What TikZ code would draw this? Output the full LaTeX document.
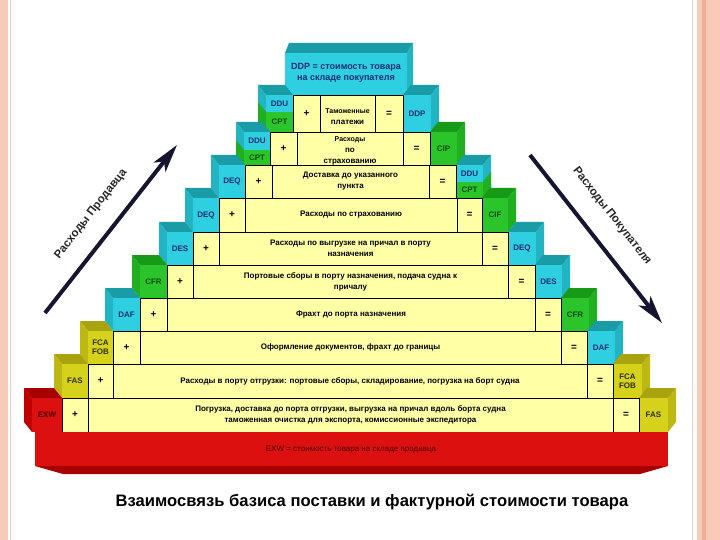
\documentclass[tikz,border=0pt]{standalone}
\usepackage{fontspec}
\setmainfont{Liberation Sans}
\usetikzlibrary{arrows.meta}
\definecolor{cellY}{HTML}{FFFFA6}
\definecolor{cyanF}{HTML}{2ECFE0}
\definecolor{cyanT}{HTML}{1A9CA6}
\definecolor{cyanS}{HTML}{22B4C2}
\definecolor{greenF}{HTML}{2BC42B}
\definecolor{greenT}{HTML}{179A17}
\definecolor{greenS}{HTML}{1FAF1F}
\definecolor{oliveF}{HTML}{D6D21C}
\definecolor{oliveT}{HTML}{A8A30E}
\definecolor{oliveS}{HTML}{BDB814}
\definecolor{redF}{HTML}{DD1010}
\definecolor{redT}{HTML}{A80000}
\definecolor{redS}{HTML}{C00000}
\definecolor{navyT}{HTML}{1C2E6E}
\definecolor{dgreenT}{HTML}{0B4F0B}
\definecolor{oliveTxt}{HTML}{2E2E00}
\definecolor{redTxt}{HTML}{4A0000}
\definecolor{arrowC}{HTML}{151530}
\definecolor{pinkA}{HTML}{F8CBB8}
\definecolor{pinkB}{HTML}{F0AE98}

% left box: x1, ytop, x2, ybot, colour prefix
\newcommand{\LBox}[5]{%
  \fill[#5T] (#1,#2) -- (#3,#2) -- (#3-8,#2-10) -- (#1-8,#2-10) -- cycle;
  \fill[#5S] (#1,#2) -- (#1-8,#2-10) -- (#1-8,#4-10) -- (#1,#4) -- cycle;
  \fill[#5F] (#1,#2) rectangle (#3,#4);}
% right box
\newcommand{\RBox}[5]{%
  \fill[#5T] (#1,#2) -- (#3,#2) -- (#3+8,#2-10) -- (#1+8,#2-10) -- cycle;
  \fill[#5S] (#3,#2) -- (#3+8,#2-10) -- (#3+8,#4-10) -- (#3,#4) -- cycle;
  \fill[#5F] (#1,#2) rectangle (#3,#4);}
% labelled boxes: name, x1, ytop, x2, ybot, prefix, text colour, label
\newcommand{\LB}[8]{\LBox{#2}{#3}{#4}{#5}{#6}%
  \node[lab, text=#7] (#1) at ({(#2+#4)/2},{(#3+#5)/2}) {#8};}
\newcommand{\RB}[8]{\RBox{#2}{#3}{#4}{#5}{#6}%
  \node[lab, text=#7] (#1) at ({(#2+#4)/2},{(#3+#5)/2}) {#8};}
% split DDU/CPT boxes: name, x1, ytop, x2, ybot, ymid
\newcommand{\LS}[6]{\LBox{#2}{#3}{#4}{#5}{cyan}%
  \fill[greenS] (#2,#6) -- (#2-8,#6-10) -- (#2-8,#5-10) -- (#2,#5) -- cycle;
  \fill[greenF] (#2,#6) rectangle (#4,#5);
  \node[lab, text=navyT] (#1u) at ({(#2+#4)/2},{(#3+#6)/2}) {DDU};
  \node[lab, text=dgreenT] (#1l) at ({(#2+#4)/2},{(#6+#5)/2}) {CPT};}
\newcommand{\RS}[6]{\RBox{#2}{#3}{#4}{#5}{cyan}%
  \fill[greenS] (#4,#6) -- (#4+8,#6-10) -- (#4+8,#5-10) -- (#4,#5) -- cycle;
  \fill[greenF] (#2,#6) rectangle (#4,#5);
  \node[lab, text=navyT] (#1u) at ({(#2+#4)/2},{(#3+#6)/2}) {DDU};
  \node[lab, text=dgreenT] (#1l) at ({(#2+#4)/2},{(#6+#5)/2}) {CPT};}
% row cells: k, ytop, ybot, px1, px2, ex1, ex2, text, text y-offset
\newcommand{\Row}[9]{%
  \draw[cellline] (#4,#2) rectangle (#5,#3);
  \draw[cellline] (#5,#2) rectangle (#6,#3);
  \draw[cellline] (#6,#2) rectangle (#7,#3);
  \node[sym] (P#1) at ({(#4+#5)/2},{(#2+#3)/2}) {+};
  \node[rowtxt] (T#1) at ({(#5+#6)/2},{(#2+#3)/2+#9}) {#8};
  \node[sym] (E#1) at ({(#6+#7)/2},{(#2+#3)/2}) {=};}

\begin{document}
\begin{tikzpicture}[x=1pt,y=-1pt,
  cellline/.style={fill=cellY, draw=black, line width=0.6pt},
  sym/.style={font=\bfseries\fontsize{10}{10}\selectfont, inner sep=0},
  rowtxt/.style={font=\bfseries\fontsize{8}{11}\selectfont, align=center, inner sep=0},
  lab/.style={font=\bfseries\fontsize{8}{9}\selectfont, align=center, inner sep=0},
  arrowline/.style={arrowC, line width=4pt, -{Stealth[length=28pt,width=15pt,inset=7pt]}},
  arrowlab/.style={font=\bfseries\fontsize{11.5}{12}\selectfont, text=black!85, inner sep=0}]
\useasboundingbox (0,0) rectangle (720,540);
\fill[white] (0,0) rectangle (720,540);
% page border
\fill[pinkA] (0,0) rectangle (8,540);
\draw[pinkA, line width=0.8pt] (10.5,0) -- (10.5,540);
\draw[pinkA, line width=0.8pt] (692,0) -- (692,540);
\fill[pinkA] (697,0) rectangle (720,540);
\fill[pinkB] (702,0) rectangle (706,540);

% top box
\fill[cyanT] (285,53) -- (407,53) -- (413,43) -- (289,43) -- cycle;
\fill[cyanS] (407,53) -- (413,43) -- (413,85) -- (407,95) -- cycle;
\fill[cyanF] (285,53) rectangle (407,95);
\node[font=\bfseries\fontsize{9}{11}\selectfont, text=navyT, align=center] (TOP) at (346,73) {DDP = стоимость товара\\на складе покупателя};

% row 10
\LS{L10}{266}{95}{293}{132}{112}
\RB{R10}{403}{95}{431}{132}{cyan}{navyT}{DDP}
\Row{10}{95}{132}{293}{320}{375}{403}{\fontsize{7}{11}\selectfont Таможенные\\платежи}{3}
% row 9
\LS{L9}{244}{132}{270}{165}{150}
\RB{R9}{430}{132}{457}{165}{green}{dgreenT}{CIP}
\Row{9}{132}{165}{270}{297}{403}{430}{\fontsize{7}{8}\selectfont Расходы\\по\\страхованию}{2.5}
% row 8
\LB{L8}{219}{165}{245}{198}{cyan}{navyT}{DEQ}
\RS{R8}{456}{165}{483}{198}{182}
\Row{8}{165}{198}{245}{272}{429}{456}{Доставка до указанного\\пункта}{0}
% row 7
\LB{L7}{193}{198}{219}{232}{cyan}{navyT}{DEQ}
\RB{R7}{482}{198}{508}{232}{green}{dgreenT}{CIF}
\Row{7}{198}{232}{219}{245}{457}{482}{Расходы по страхованию}{0}
% row 6
\LB{L6}{167}{232}{193}{265}{cyan}{navyT}{DES}
\RB{R6}{508}{232}{536}{265}{cyan}{navyT}{DEQ}
\Row{6}{232}{265}{193}{219}{482}{508}{Расходы по выгрузке на причал в порту\\назначения}{0}
% row 5
\LB{L5}{140}{265}{167}{298}{green}{dgreenT}{CFR}
\RB{R5}{535}{265}{562}{298}{cyan}{navyT}{DES}
\Row{5}{265}{298}{167}{193}{508}{535}{Портовые сборы в порту назначения, подача судна к\\причалу}{0}
% row 4
\LB{L4}{113}{298}{140}{331}{cyan}{navyT}{DAF}
\RB{R4}{561}{298}{589}{331}{green}{dgreenT}{CFR}
\Row{4}{298}{331}{140}{167}{535}{561}{Фрахт до порта назначения}{0}
% row 3
\LB{L3}{88}{331}{113}{364}{olive}{oliveTxt}{FCA\\FOB}
\RB{R3}{587}{331}{615}{364}{cyan}{navyT}{DAF}
\Row{3}{331}{364}{113}{140}{561}{587}{Оформление документов, фрахт до границы}{0}
% row 2
\LB{L2}{62}{364}{88}{398}{olive}{oliveTxt}{FAS}
\RB{R2}{613}{364}{642}{398}{olive}{oliveTxt}{FCA\\FOB}
\Row{2}{364}{398}{88}{113}{587}{613}{Расходы в порту отгрузки: портовые сборы, складирование, погрузка на борт судна}{0}
% row 1
\LB{L1}{32}{398}{62}{432}{red}{redTxt}{EXW}
\RB{R1}{639}{398}{668}{432}{olive}{oliveTxt}{FAS}
\Row{1}{398}{432}{62}{88}{613}{639}{Погрузка, доставка до порта отгрузки, выгрузка на причал вдоль борта судна\\таможенная очистка для экспорта, комиссионные экспедитора}{0}

% red base slab
\fill[redF] (35,432) rectangle (668,466);
\fill[redT] (35,466) -- (668,466) -- (640,474) -- (63,474) -- cycle;
\node[font=\fontsize{8}{8}\selectfont, text=redTxt] (BASE) at (351,450) {EXW = стоимость товара на складе продавца};

% arrows
\coordinate (sA) at (45,313);
\coordinate (sB) at (177,145);
\coordinate (bA) at (530,155);
\coordinate (bB) at (662,323);
\draw[arrowline] (sA) -- (sB);
\draw[arrowline] (bA) -- (bB);
\node[arrowlab, rotate=52] (AL) at (91,214) {Расходы Продавца};
\node[arrowlab, rotate=-52] (AR) at (612,216) {Расходы Покупателя};

% caption
\node[font=\bfseries\fontsize{16.6}{17}\selectfont] (CAP) at (372,502) {Взаимосвязь базиса поставки и фактурной стоимости товара};
\end{tikzpicture}
\end{document}
